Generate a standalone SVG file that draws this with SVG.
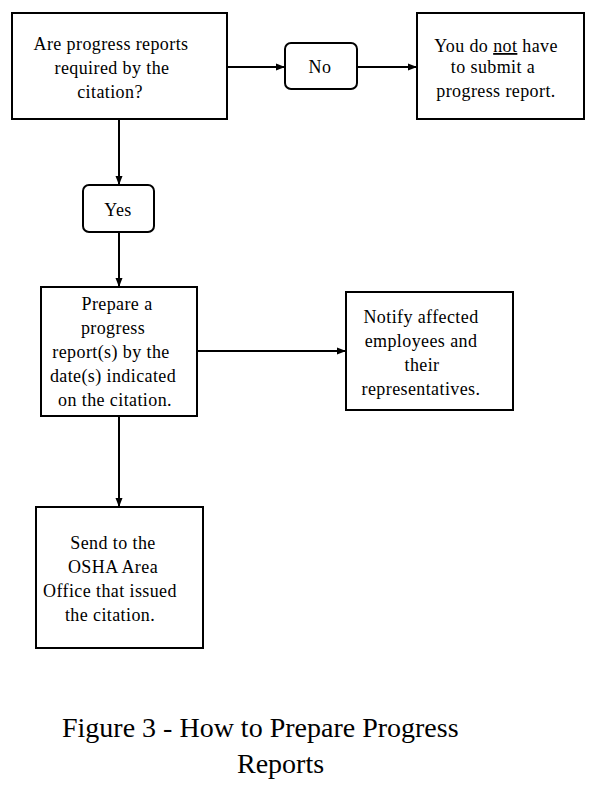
<svg xmlns="http://www.w3.org/2000/svg" width="597" height="810" viewBox="0 0 597 810">
<style>
.box{fill:#fff;stroke:#000;stroke-width:2}
.t{font-family:"Liberation Serif","Times New Roman",serif;font-size:18px;letter-spacing:0.4px;fill:#000;text-anchor:middle}
.cap{font-family:"Liberation Serif","Times New Roman",serif;font-size:28px;fill:#000}
.c{stroke:#000;stroke-width:2;fill:none;marker-end:url(#ah)}
</style>
<defs>
<marker id="ah" markerWidth="10" markerHeight="8" refX="9" refY="4" orient="auto" markerUnits="userSpaceOnUse">
<path d="M0,0.5 L9,4 L0,7.5 Z" fill="#000"/>
</marker>
</defs>
<rect width="597" height="810" fill="#fff"/>
<g id="connectors">
<line class="c" x1="227" y1="67" x2="285" y2="67"/>
<line class="c" x1="357" y1="67" x2="417" y2="67"/>
<line class="c" x1="119" y1="119" x2="119" y2="185"/>
<line class="c" x1="119" y1="232" x2="119" y2="287"/>
<line class="c" x1="197" y1="351" x2="346" y2="351"/>
<line class="c" x1="119" y1="416" x2="119" y2="507"/>
</g>
<g id="question">
<rect class="box" x="12" y="13" width="215" height="106"/>
<text class="t" x="111" y="50">Are progress reports</text>
<text class="t" x="112" y="74">required by the</text>
<text class="t" x="110" y="98">citation?</text>
</g>
<g id="no">
<rect class="box" x="285" y="43" width="72" height="46" rx="6"/>
<text class="t" x="320" y="73">No</text>
</g>
<g id="not-required">
<rect class="box" x="417" y="13" width="167" height="106"/>
<text class="t" x="496" y="52">You do <tspan text-decoration="underline">not</tspan> have</text>
<text class="t" x="493" y="73">to submit a</text>
<text class="t" x="496" y="97">progress report.</text>
</g>
<g id="yes">
<rect class="box" x="83" y="185" width="71" height="47" rx="6"/>
<text class="t" x="118" y="216">Yes</text>
</g>
<g id="prepare">
<rect class="box" x="41" y="287" width="156" height="129"/>
<text class="t" x="117" y="310">Prepare a</text>
<text class="t" x="113" y="334">progress</text>
<text class="t" x="111" y="358">report(s) by the</text>
<text class="t" x="113" y="382">date(s) indicated</text>
<text class="t" x="115" y="406">on the citation.</text>
</g>
<g id="notify">
<rect class="box" x="346" y="292" width="167" height="118"/>
<text class="t" x="421" y="323">Notify affected</text>
<text class="t" x="421" y="347">employees and</text>
<text class="t" x="422" y="371">their</text>
<text class="t" x="421" y="395">representatives.</text>
</g>
<g id="send">
<rect class="box" x="36" y="507" width="167" height="141"/>
<text class="t" x="113" y="549">Send to the</text>
<text class="t" x="113" y="573">OSHA Area</text>
<text class="t" x="110" y="597">Office that issued</text>
<text class="t" x="110" y="621">the citation.</text>
</g>
<g id="caption">
<text class="cap" x="62" y="737">Figure 3 - How to Prepare Progress</text>
<text class="cap" x="237" y="773">Reports</text>
</g>
</svg>
